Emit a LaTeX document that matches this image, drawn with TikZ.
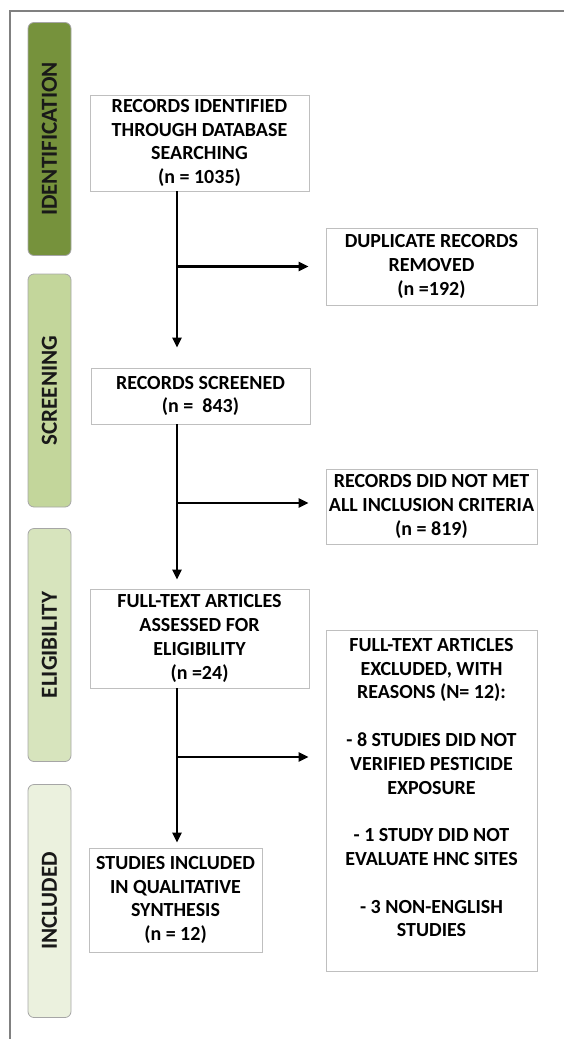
\documentclass[tikz,border=0pt]{standalone}
\usepackage{fontspec}
\setmainfont{Carlito}
\usepackage{tikz}
\usetikzlibrary{arrows.meta}
\definecolor{idgreen}{HTML}{76923C}
\definecolor{scrgreen}{HTML}{C3D69B}
\definecolor{elggreen}{HTML}{D7E4BD}
\definecolor{incgreen}{HTML}{EBF1DE}
\tikzstyle{every picture}=[x=1pt,y=-1pt]
\tikzstyle{box}=[rectangle, draw=black!25, line width=0.8pt, fill=white,
                 inner sep=0pt, align=center,
                 font=\fontsize{20}{23.8}\selectfont\bfseries]
\tikzstyle{stage}=[rectangle, rounded corners=6pt, draw=black!35, line width=0.8pt,
                   inner sep=0pt, rotate=90, minimum width=233pt, minimum height=43pt,
                   font=\fontsize{23}{26}\selectfont\bfseries, text=black!90]
\tikzstyle{flow}=[-{Triangle[length=10pt,width=9pt]}, line width=2.6pt]

\begin{document}
\begin{tikzpicture}
      \useasboundingbox (0,0) rectangle (564,1039);
      \draw[black!50, line width=1.5pt] (564,11) -- (10,11) -- (10,1039);
      \node[stage, fill=idgreen] (idbar) at (49.5,139) {IDENTIFICATION};
      \node[stage, fill=scrgreen] (scrbar) at (49.5,390.5) {SCREENING};
      \node[stage, fill=elggreen] (elgbar) at (49.5,645) {ELIGIBILITY};
      \node[stage, fill=incgreen] (incbar) at (49.5,901) {INCLUDED};
      \node[box, minimum width=219pt, minimum height=96pt] (ident) at (199.5,143)
	{RECORDS IDENTIFIED\\ THROUGH DATABASE\\ SEARCHING\\ (n = 1035)};
      \node[box, minimum width=211pt, minimum height=77pt] (dup) at (431.5,266.5)
	{DUPLICATE RECORDS\\ REMOVED\\ (n =192)};
      \node[box, minimum width=219pt, minimum height=56pt] (screened) at (200.5,396)
	{RECORDS SCREENED\\ (n = \ 843)};
      \node[box, minimum width=211pt, minimum height=75pt] (notmet) at (431.5,506.5)
	{RECORDS DID NOT MET\\ ALL INCLUSION CRITERIA\\ (n = 819)};
      \node[box, minimum width=219pt, minimum height=99pt] (fulltext) at (199.5,638.5)
	{FULL-TEXT ARTICLES\\ ASSESSED FOR\\ ELIGIBILITY\\ (n =24)};
      \node[box, minimum width=211pt, minimum height=341pt] (excluded) at (431.5,800.5)
	{FULL-TEXT ARTICLES\\ EXCLUDED, WITH\\ REASONS (N= 12):\\[23.8pt]
	 - 8 STUDIES DID NOT\\ VERIFIED PESTICIDE\\ EXPOSURE\\[23.8pt]
	 - 1 STUDY DID NOT\\ EVALUATE HNC SITES\\[23.8pt]
	 - 3 NON-ENGLISH\\ STUDIES\\[2pt] \mbox{}};
      \node[box, minimum width=173pt, minimum height=104pt] (included) at (175.5,900)
	{STUDIES INCLUDED\\ IN QUALITATIVE\\ SYNTHESIS\\ (n = 12)};
      \coordinate (spine) at (177,0);
      \coordinate (br3) at (177,757);
	\draw[flow, shorten >=20pt] (ident.south -| spine) -- (screened.north -| spine);
	\draw[flow, shorten >=9pt] (screened.south -| spine) -- (fulltext.north -| spine);
	\draw[flow, shorten >=5pt] (fulltext.south -| spine) -- (included.north -| spine);
	\draw[flow, shorten >=17pt] (dup.west -| spine) -- (dup.west);
	\draw[flow, shorten >=17pt] ([yshift=3.5pt]notmet.west -| spine) -- ([yshift=3.5pt]notmet.west);
	\draw[flow, shorten >=17pt] (br3) -- (br3 -| excluded.west);
\end{tikzpicture}
\end{document}
